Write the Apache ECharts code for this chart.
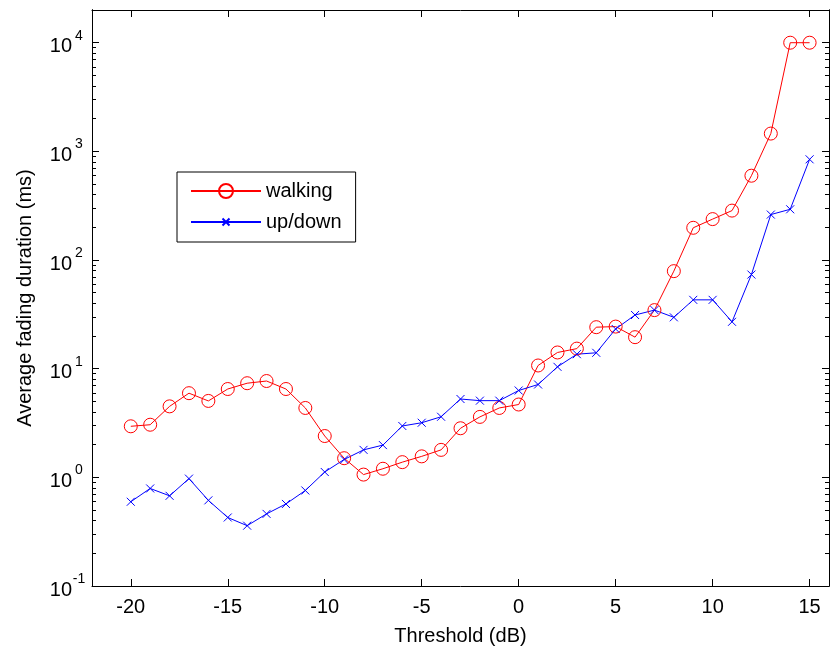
<!DOCTYPE html>
<html>
<head>
<meta charset="utf-8">
<script src="https://cdn.jsdelivr.net/npm/echarts@6/dist/echarts.min.js"></script>
<style>
  html, body { margin: 0; padding: 0; background: #fff; }
  #chart { width: 830px; height: 651px; }
</style>
</head>
<body>
<div id="chart"></div>
<script>
// threshold values (dB)
var thresholds = [-20, -19, -18, -17, -16, -15, -14, -13, -12, -11, -10,
  -9, -8, -7, -6, -5, -4, -3, -2, -1, 0,
  1, 2, 3, 4, 5, 6, 7, 8, 9, 10, 11, 12, 13, 14, 15];

// average fading duration (ms)
var walking = [2.95, 3.05, 4.5, 5.95, 5.05, 6.5, 7.35, 7.7, 6.5, 4.35, 2.4,
  1.5, 1.06, 1.2, 1.38, 1.56, 1.79, 2.83, 3.6, 4.35, 4.68,
  10.7, 14.1, 15.3, 24.1, 24.4, 19.5, 34.6, 79, 198, 238, 285, 597, 1458, 10000, 10000];
var upDown = [0.596, 0.79, 0.676, 0.973, 0.614, 0.427, 0.359, 0.461, 0.569, 0.757, 1.12,
  1.46, 1.79, 1.98, 2.97, 3.18, 3.61, 5.26, 5.08, 5.08, 6.3,
  7.15, 10.4, 13.6, 14.0, 23.2, 31.2, 34.6, 29.7, 43, 43, 27, 73.5, 262, 293, 845];

var xTicks = [-20, -15, -10, -5, 0, 5, 10, 15];
var decades = [-1, 0, 1, 2, 3, 4];
var minorMult = [2, 3, 4, 5, 6, 7, 8, 9];

var yMin = 0.1, yMax = 20000;
var logMin = Math.log10(yMin), logMax = Math.log10(yMax);

var minorLogs = [];
decades.forEach(function (d) {
  minorMult.forEach(function (m) {
    var v = d + Math.log10(m);
    if (v < logMax) minorLogs.push(v);
  });
});

function pairs(ys) {
  return thresholds.map(function (x, i) { return [x, ys[i]]; });
}

var font = 'Liberation Sans, Arial, Helvetica, sans-serif';
var black = '#000';

// tick-only axes in log10 space, for the minor ticks and the mirrored right side
function decoAxis(position, ticks, len) {
  return {
    type: 'value', position: position, min: logMin, max: logMax,
    axisLine: { show: true, onZero: false, lineStyle: { color: black, width: 1 } },
    axisTick: { show: true, inside: true, length: len, customValues: ticks, lineStyle: { color: black } },
    axisLabel: { show: false },
    splitLine: { show: false }
  };
}

var chart = echarts.init(document.getElementById('chart'), null, { renderer: 'canvas' });

var xMark = 'path://M-5,-5M15,15M0,0L10,10M10,0L0,10';

chart.setOption({
  animation: false,
  backgroundColor: '#fff',
  textStyle: { fontFamily: font },
  grid: { left: 92, right: 1, top: 10, bottom: 59 },
  legend: {
    orient: 'vertical',
    left: 177, top: 172,
    backgroundColor: '#fff',
    borderColor: black, borderWidth: 1, borderRadius: 0,
    padding: [9, 14, 10, 13],
    itemWidth: 70, itemHeight: 17.5, itemGap: 11,
    textStyle: { fontFamily: font, fontSize: 20, color: black },
    data: ['walking', 'up/down']
  },
  xAxis: [{
    type: 'value', min: -22, max: 16, position: 'bottom',
    name: 'Threshold (dB)', nameLocation: 'middle', nameGap: 40,
    nameTextStyle: { fontFamily: font, fontSize: 20, color: black },
    axisLine: { show: true, onZero: false, lineStyle: { color: black, width: 1 } },
    axisTick: { show: true, inside: true, length: 7, customValues: xTicks, lineStyle: { color: black } },
    axisLabel: { show: true, customValues: xTicks, margin: 11, fontFamily: font, fontSize: 20, color: black },
    splitLine: { show: false }
  }, {
    type: 'value', min: -22, max: 16, position: 'top',
    axisLine: { show: true, onZero: false, lineStyle: { color: black, width: 1 } },
    axisTick: { show: true, inside: true, length: 7, customValues: xTicks, lineStyle: { color: black } },
    axisLabel: { show: false },
    splitLine: { show: false }
  }],
  yAxis: [{
    type: 'log', logBase: 10, min: yMin, max: yMax, position: 'left',
    name: 'Average fading duration (ms)', nameLocation: 'middle', nameGap: 57,
    nameTextStyle: { fontFamily: font, fontSize: 20, color: black },
    axisLine: { show: true, onZero: false, lineStyle: { color: black, width: 1 } },
    axisTick: { show: false },
    axisLabel: {
      margin: 6,
      padding: [8, 0, 0, 0],
      formatter: function (v) {
        var e = Math.round(Math.log10(v));
        if (Math.abs(Math.pow(10, e) - v) / v > 1e-6) return '';
        return '{b|10}{e|' + e + '}';
      },
      rich: {
        b: { fontFamily: font, fontSize: 20, lineHeight: 36, color: black },
        e: { fontFamily: font, fontSize: 14, lineHeight: 14, verticalAlign: 'top', width: 14, align: 'left', color: black }
      }
    },
    splitLine: { show: false }
  },
    decoAxis('left', decades, 7),
    decoAxis('left', minorLogs, 4),
    decoAxis('right', decades, 7),
    decoAxis('right', minorLogs, 4)
  ],
  series: [{
    name: 'walking', type: 'line',
    data: pairs(walking),
    symbol: 'circle', symbolSize: 13,
    lineStyle: { color: '#ff0000', width: 1 },
    itemStyle: { color: 'rgba(0,0,0,0)', borderColor: '#ff0000', borderWidth: 1 },
    emphasis: { disabled: true }
  }, {
    name: 'up/down', type: 'line',
    data: pairs(upDown),
    symbol: xMark, symbolSize: 16,
    lineStyle: { color: '#0000ff', width: 1 },
    itemStyle: { color: 'rgba(0,0,0,0)', borderColor: '#0000ff', borderWidth: 1 },
    emphasis: { disabled: true }
  }]
});
</script>
</body>
</html>
